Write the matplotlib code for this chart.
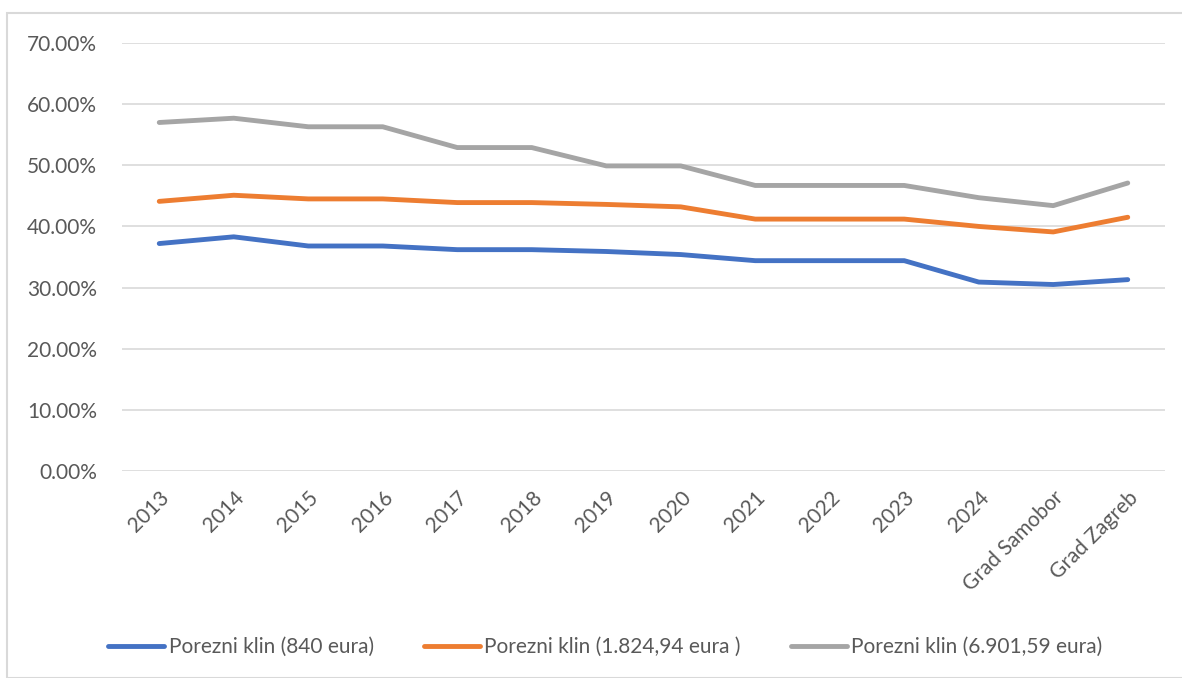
import matplotlib
matplotlib.use("Agg")
import matplotlib.pyplot as plt
from matplotlib.patches import Rectangle
from matplotlib.ticker import FuncFormatter

categories = ["2013", "2014", "2015", "2016", "2017", "2018", "2019", "2020",
              "2021", "2022", "2023", "2024", "Grad Samobor", "Grad Zagreb"]
series_names = ["Porezni klin (840 eura)", "Porezni klin (1.824,94 eura )",
                "Porezni klin (6.901,59 eura)"]
klin_840 = [37.2, 38.3, 36.8, 36.8, 36.2, 36.2, 35.9, 35.4, 34.4, 34.4, 34.4, 30.9, 30.5, 31.3]
klin_1824 = [44.1, 45.1, 44.5, 44.5, 43.9, 43.9, 43.6, 43.2, 41.2, 41.2, 41.2, 40.0, 39.1, 41.5]
klin_6901 = [57.0, 57.7, 56.3, 56.3, 52.9, 52.9, 49.9, 49.9, 46.7, 46.7, 46.7, 44.7, 43.4, 47.1]
colors = ["#4472C4", "#ED7D31", "#A5A5A5"]

plt.rcParams['font.family'] = ['Lato', 'DejaVu Sans']
txt = "#595959"
fs = 15

fig = plt.figure(figsize=(11.82, 6.78), dpi=100)
fig.patches.append(Rectangle((7/1182, 0), 1.0, 1 - 13/678, transform=fig.transFigure,
                             fill=False, edgecolor="#d9d9d9", linewidth=1.5))
ax = fig.add_axes([122/1182, 1 - 471/678, (1165 - 122)/1182, (471 - 43)/678])

x = list(range(len(categories)))
for vals, c, name in zip([klin_840, klin_1824, klin_6901], colors, series_names):
    ax.plot(x, [v / 100 for v in vals], color=c, linewidth=3.5, label=name,
            solid_capstyle='round', solid_joinstyle='round')

ax.set_xlim(-0.5, len(categories) - 0.5)
ax.set_ylim(0, 0.7)
ax.set_yticks([i / 10 for i in range(8)])
ax.yaxis.set_major_formatter(FuncFormatter(lambda v, p: f"{v*100:.2f}%"))
ax.set_xticks(x)
ax.set_xticklabels(categories, rotation=45, ha='right', rotation_mode='anchor')
ax.grid(axis='y', color='#d9d9d9', linewidth=1.2)
ax.set_axisbelow(True)
for s in ax.spines.values():
    s.set_visible(False)
ax.tick_params(axis='both', length=0, colors=txt, labelsize=fs)
ax.tick_params(axis='y', pad=18)
ax.tick_params(axis='x', pad=12)

leg = fig.legend(loc='center', bbox_to_anchor=(0.512, 1 - 647/678), ncol=3,
                 frameon=False, fontsize=fs, handlelength=2.7, handletextpad=0.2,
                 columnspacing=2.4)
for t in leg.get_texts():
    t.set_color(txt)

fig.savefig("out.png", dpi=100)
